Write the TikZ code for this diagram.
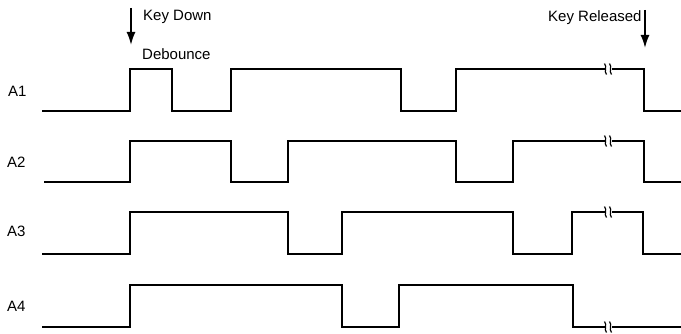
\documentclass[tikz,border=0pt]{standalone}
\usepackage{fontspec}
\setmainfont{Liberation Sans}
\usetikzlibrary{arrows.meta}
\tikzset{
  wave/.style={line width=2.9pt, line join=miter, line cap=butt},
  lbl/.style={inner sep=0pt, anchor=base west, font=\fontsize{15}{18}\selectfont},
  keyarrow/.style={line width=1.8pt, -{Latex[length=13pt,width=9pt]}},
  brkline/.style={line width=1.2pt}
}
\newcommand\brkmark[2]{%
  \fill[white] (#1-3.5,#2-2.5) rectangle (#1+3.5,#2+2.5);
  \draw[brkline] (#1-3.5,#2-5.5) .. controls (#1-0.5,#2-2) and (#1-4.5,#2+2) .. (#1-1.5,#2+5.5);
  \draw[brkline] (#1+1.5,#2-5.5) .. controls (#1+4.5,#2-2) and (#1+0.5,#2+2) .. (#1+3.5,#2+5.5);
}
\begin{document}
\begin{tikzpicture}[x=1pt,y=-1pt]
\useasboundingbox (0,0) rectangle (681,334);
% labels
\node[lbl] (a1) at (8,97) {A1};
\node[lbl] (a2) at (7,168) {A2};
\node[lbl] (a3) at (7,237) {A3};
\node[lbl] (a4) at (7,312) {A4};
\node[lbl] (kd) at (143,21) {Key Down};
\node[lbl] (db) at (142,60) {Debounce};
\node[lbl] (kr) at (548,22) {Key Released};
% arrows
\coordinate (kdt) at (131,8);
\coordinate (kdb) at (131,45);
\coordinate (krt) at (645,10);
\coordinate (krb) at (645,48);
\draw[keyarrow] (kdt) -- (kdb);
\draw[keyarrow] (krt) -- (krb);
% waveforms
\draw[wave] (42,111) -- (130,111) -- (130,69) -- (172,69) -- (172,111) -- (231,111) -- (231,69)
  -- (401,69) -- (401,111) -- (456,111) -- (456,69) -- (644,69) -- (644,111) -- (681,111);
\draw[wave] (44,182) -- (130,182) -- (130,141) -- (231,141) -- (231,182) -- (288,182) -- (288,141)
  -- (456,141) -- (456,182) -- (513,182) -- (513,141) -- (644,141) -- (644,182) -- (681,182);
\draw[wave] (42,254) -- (130,254) -- (130,212) -- (288,212) -- (288,254) -- (342,254) -- (342,212)
  -- (513,212) -- (513,254) -- (572,254) -- (572,212) -- (643,212) -- (643,254) -- (681,254);
\draw[wave] (42,327) -- (130,327) -- (130,285) -- (342,285) -- (342,327) -- (399,327) -- (399,285)
  -- (573,285) -- (573,327) -- (681,327);
% break marks
\brkmark{608}{69}
\brkmark{608}{141}
\brkmark{608}{212}
\brkmark{608}{327}
\end{tikzpicture}
\end{document}
